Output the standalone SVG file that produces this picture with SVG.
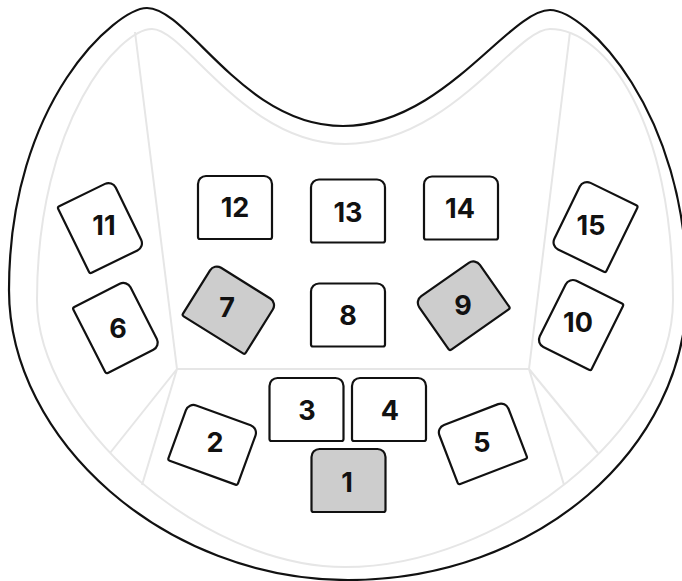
<svg xmlns="http://www.w3.org/2000/svg" width="682" height="581" viewBox="0 0 682 581">
<style>
.outer{fill:#fff;stroke:#111;stroke-width:2.2}
.inner{fill:none;stroke:#e6e6e6;stroke-width:2}
.div{fill:none;stroke:#e6e6e6;stroke-width:2}
.k{fill:#fff;stroke:#111;stroke-width:2.2;stroke-linejoin:round}
.g{fill:#cdcdcd}
.t{font-family:Inter,"Open Sans","Liberation Sans",sans-serif;font-weight:700;font-size:27px;fill:#111;text-anchor:middle}
</style>
<defs>
<path id="capU" d="M -29,-31.5 H 29 A 8 8 0 0 1 37,-23.5 V 29.5 A 2 2 0 0 1 35,31.5 H -35 A 2 2 0 0 1 -37,29.5 V -23.5 A 8 8 0 0 1 -29,-31.5 Z"/>
<path id="capR" d="M -29,-30.5 H 29 A 8 8 0 0 1 37,-22.5 V 28.5 A 2 2 0 0 1 35,30.5 H -35 A 2 2 0 0 1 -37,28.5 V -22.5 A 8 8 0 0 1 -29,-30.5 Z"/>
</defs>
<g id="body">
<path class="outer" d="M 343,126 C 243,126 188,8 147,8 C 117,8 9,100 9,290 C 9,440 165,580 348,580 C 536,580 687,450 687,290 C 687,110 585,10 550,10 C 509,10 443,126 343,126 Z"/>
<path class="inner" d="M 345,144 C 245,144 185,29 152,29 C 120,29 37,120 37,300 C 37,420 200,567 345,567 C 500,567 673,430 673,300 C 673,120 605,29 550,29 C 515,29 450,144 345,144 Z"/>
</g>
<g id="connectors">
<path class="div" d="M 135,32 L 177,369 L 529,369 L 570,32"/>
<path class="div" d="M 110,453 L 177,369 L 142,485"/>
<path class="div" d="M 598,453 L 529,369 L 564,485"/>
</g>
<g id="key12"><use href="#capU" class="k" transform="translate(235,207.5)"/><text class="t" x="235" y="217">12</text></g>
<g id="key13"><use href="#capU" class="k" transform="translate(348,211)"/><text class="t" x="348" y="222">13</text></g>
<g id="key14"><use href="#capU" class="k" transform="translate(461,208)"/><text class="t" x="460" y="218">14</text></g>
<g id="key8"><use href="#capU" class="k" transform="translate(348,315)"/><text class="t" x="348" y="325">8</text></g>
<g id="key3"><use href="#capU" class="k" transform="translate(306.5,409.5)"/><text class="t" x="307" y="420">3</text></g>
<g id="key4"><use href="#capU" class="k" transform="translate(389,409.5)"/><text class="t" x="390" y="420">4</text></g>
<g id="key1"><use href="#capU" class="k g" transform="translate(348.5,480.5)"/><text class="t" x="347" y="492">1</text></g>
<g id="key11"><use href="#capR" class="k" transform="translate(101,227) rotate(64)"/><text class="t" x="104" y="235">11</text></g>
<g id="key6"><use href="#capR" class="k" transform="translate(116.5,327) rotate(63)"/><text class="t" x="118" y="338">6</text></g>
<g id="key15"><use href="#capR" class="k" transform="translate(594.5,226) rotate(-64)"/><text class="t" x="591" y="235">15</text></g>
<g id="key10"><use href="#capR" class="k" transform="translate(580,324) rotate(-63.5)"/><text class="t" x="578" y="332">10</text></g>
<g id="key7"><use href="#capR" class="k g" transform="translate(229.5,309) rotate(32)"/><text class="t" x="227" y="317">7</text></g>
<g id="key9"><use href="#capR" class="k g" transform="translate(462.5,304.5) rotate(-35)"/><text class="t" x="463" y="315">9</text></g>
<g id="key2"><use href="#capR" class="k" transform="translate(213,444) rotate(20)"/><text class="t" x="215" y="452">2</text></g>
<g id="key5"><use href="#capR" class="k" transform="translate(482,443) rotate(-21)"/><text class="t" x="482" y="452">5</text></g>
</svg>
